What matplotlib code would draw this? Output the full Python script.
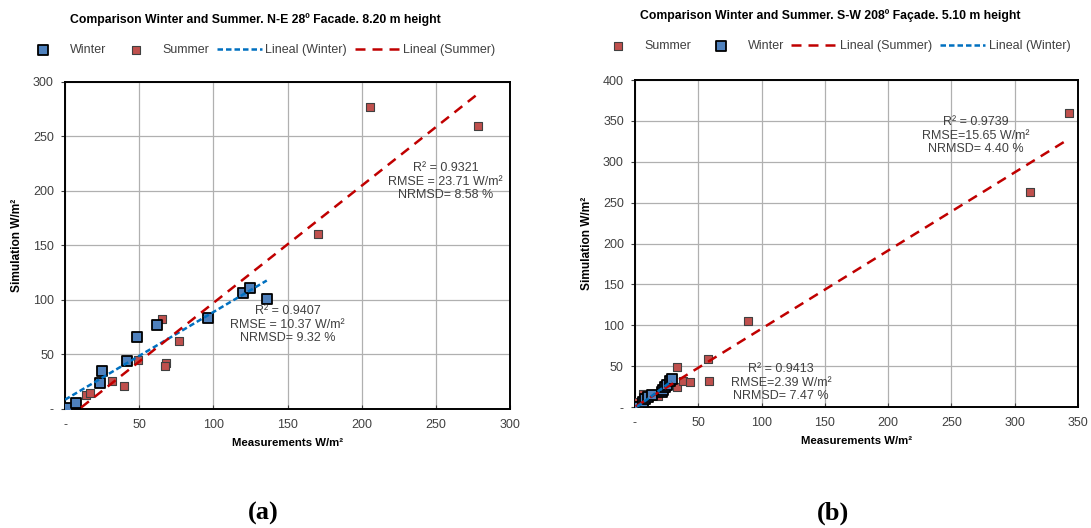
import numpy as np
import matplotlib
matplotlib.use("Agg")
from matplotlib import pyplot as plt
from matplotlib.ticker import FuncFormatter

plt.rcParams["font.family"] = ["Liberation Sans", "DejaVu Sans"]

# N-E 28º facade, 8.20 m height
ne_winter_meas = [0, 1, 7.2, 23.6, 24.7, 41.6, 48.3, 61.8, 96.6, 119.8, 124.7, 136.0]
ne_winter_sim = [0, 1, 5.8, 23.6, 34.6, 44.0, 65.8, 77.0, 83.2, 106.0, 111.3, 101.0]
ne_summer_meas = [1.8, 14.2, 17.0, 31.5, 40.0, 49.4, 65.4, 68.0, 67.4, 76.9, 96.0, 170.8, 205.6, 278.6]
ne_summer_sim = [0.5, 12.5, 14.4, 26.0, 21.4, 45.0, 82.6, 42.5, 39.4, 62.4, 84.0, 160.2, 276.8, 260.0]

# S-W 208º facade, 5.10 m height
sw_summer_meas = [0.6, 6.0, 17.9, 33.0, 37.7, 43.5, 33.0, 57.4, 58.7, 89.0, 312.0, 342.6]
sw_summer_sim = [6.5, 15.5, 13.8, 24.0, 32.0, 30.2, 48.6, 58.7, 31.8, 105.2, 263.4, 359.3]
sw_winter_meas = [1.8, 3.0, 6.0, 7.9, 10.5, 13.2, 21.0, 22.4, 23.7, 25.0, 27.7, 29.0]
sw_winter_sim = [0, 0, 5.7, 9.4, 12.6, 14.7, 19.0, 20.8, 24.8, 27.0, 32.2, 33.9]

WINTER_FACE = "#4F81BD"
SUMMER_FACE = "#C0504D"
WINTER_LINE = "#0070C0"
SUMMER_LINE = "#C00000"
TEXT_GREY = "#404040"


def dash_formatter(v, pos):
    return "-" if abs(v) < 1e-9 else f"{v:g}"


def trend(ax, x, y, color, dashes):
    slope, intercept = np.polyfit(x, y, 1)
    xs = np.array([min(x), max(x)])
    ax.plot(xs, slope * xs + intercept, color=color, lw=1.8, dashes=dashes, zorder=5)


def style_axes(ax, xmax, ymax):
    ax.set_xlim(0, xmax)
    ax.set_ylim(0, ymax)
    ax.set_xticks(np.arange(0, xmax + 1, 50))
    ax.set_yticks(np.arange(0, ymax + 1, 50))
    ax.xaxis.set_major_formatter(FuncFormatter(dash_formatter))
    ax.yaxis.set_major_formatter(FuncFormatter(dash_formatter))
    ax.grid(True, color="#b0b0b0", lw=0.9)
    ax.set_axisbelow(True)
    for sp in ax.spines.values():
        sp.set_linewidth(1.4)
        sp.set_color("black")
    ax.tick_params(axis="x", direction="in", length=3, pad=7, labelsize=9, colors=TEXT_GREY)
    ax.tick_params(axis="y", direction="out", length=3, pad=5, labelsize=9, colors=TEXT_GREY)
    ax.set_xlabel("Measurements W/m²", fontsize=8.2, fontweight="bold", labelpad=5)
    ax.set_ylabel("Simulation W/m²", fontsize=8.6, fontweight="bold", labelpad=7)


def stats_label(ax, x, y, text):
    ax.text(x, y, text, transform=ax.transAxes, ha="center", va="center",
            fontsize=9, color=TEXT_GREY, linespacing=1.15, zorder=6)


fig = plt.figure(figsize=(10.91, 5.28), dpi=100)
ax1 = fig.add_axes([0.0596, 0.2254, 0.4079, 0.6193])
ax2 = fig.add_axes([0.582, 0.229, 0.406, 0.6193])

legend_kw = dict(ncol=4, loc="lower center", frameon=False, fontsize=9, handlelength=3.6,
                 handletextpad=0.3, columnspacing=0.6, labelcolor=TEXT_GREY)

# left panel
s_w = ax1.scatter(ne_winter_meas, ne_winter_sim, marker="s", s=48, c=WINTER_FACE,
                  edgecolors="black", linewidths=1.3, zorder=4)
s_s = ax1.scatter(ne_summer_meas, ne_summer_sim, marker="s", s=26, c=SUMMER_FACE,
                  edgecolors="#404040", linewidths=0.8, zorder=3)
trend(ax1, ne_winter_meas, ne_winter_sim, WINTER_LINE, (2.2, 1.2))
trend(ax1, ne_summer_meas, ne_summer_sim, SUMMER_LINE, (4, 2.8))
style_axes(ax1, 300, 300)
h_lw, = ax1.plot([], [], color=WINTER_LINE, lw=1.8, dashes=(2.2, 1.2))
h_ls, = ax1.plot([], [], color=SUMMER_LINE, lw=1.8, dashes=(4, 2.8))
ax1.legend([s_w, s_s, h_lw, h_ls], ["Winter", "Summer", "Lineal (Winter)", "Lineal (Summer)"],
           bbox_to_anchor=(0.434, 1.045), **legend_kw)
ax1.set_title("Comparison Winter and Summer. N-E 28º Facade. 8.20 m height",
              fontsize=8.8, fontweight="bold", x=0.428, y=1.155)
stats_label(ax1, 0.855, 0.695, "R² = 0.9321\nRMSE = 23.71 W/m²\nNRMSD= 8.58 %")
stats_label(ax1, 0.50, 0.258, "R² = 0.9407\nRMSE = 10.37 W/m²\nNRMSD= 9.32 %")

# right panel
r_s = ax2.scatter(sw_summer_meas, sw_summer_sim, marker="s", s=26, c=SUMMER_FACE,
                  edgecolors="#404040", linewidths=0.8, zorder=3)
r_w = ax2.scatter(sw_winter_meas, sw_winter_sim, marker="s", s=48, c=WINTER_FACE,
                  edgecolors="black", linewidths=1.3, zorder=4)
trend(ax2, sw_summer_meas, sw_summer_sim, SUMMER_LINE, (4, 2.8))
trend(ax2, sw_winter_meas, sw_winter_sim, WINTER_LINE, (2.2, 1.2))
style_axes(ax2, 350, 400)
ax2.legend([r_s, r_w, h_ls, h_lw], ["Summer", "Winter", "Lineal (Summer)", "Lineal (Winter)"],
           bbox_to_anchor=(0.447, 1.05), **legend_kw)
ax2.set_title("Comparison Winter and Summer. S-W 208º Façade. 5.10 m height",
              fontsize=8.8, fontweight="bold", x=0.44, y=1.16)
stats_label(ax2, 0.77, 0.83, "R² = 0.9739\nRMSE=15.65 W/m²\nNRMSD= 4.40 %")
stats_label(ax2, 0.33, 0.075, "R² = 0.9413\nRMSE=2.39 W/m²\nNRMSD= 7.47 %")

fig.text(263 / 1091, 1 - 513 / 528, "(a)", family="Liberation Serif", fontweight="bold",
         fontsize=19, ha="center", va="center")
fig.text(833 / 1091, 1 - 513 / 528, "(b)", family="Liberation Serif", fontweight="bold",
         fontsize=19, ha="center", va="center")

fig.savefig("out.png", dpi=100)
